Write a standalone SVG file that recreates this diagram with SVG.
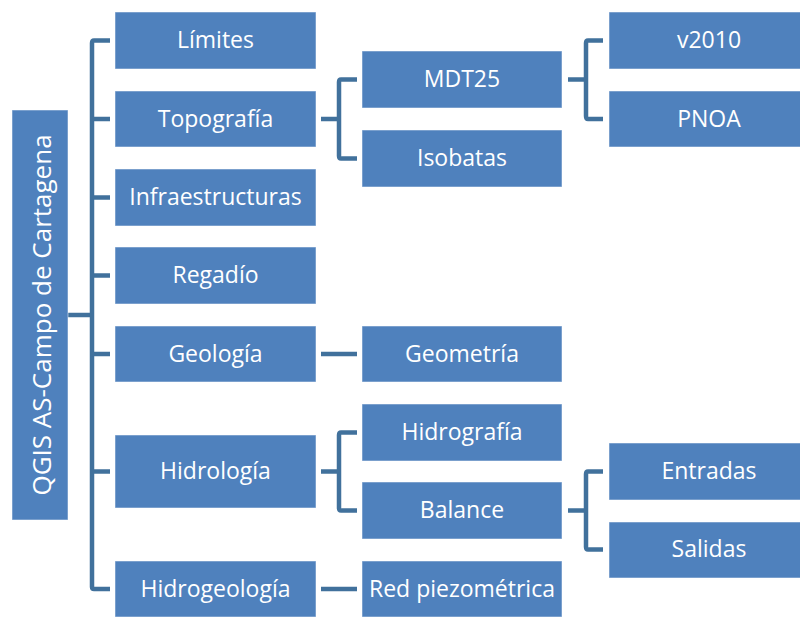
<svg xmlns="http://www.w3.org/2000/svg" width="800" height="617" viewBox="0 0 800 617">
<style>
.b{fill:#4F81BD;stroke:#FFFFFF;stroke-opacity:0.5;stroke-width:1}
.t{fill:#FFFFFF;font-family:"Open Sans","Liberation Sans",sans-serif;font-size:23px;text-anchor:middle;dominant-baseline:central}
.c{fill:none;stroke:#41719C;stroke-width:4.5;stroke-linejoin:round}
</style>
<rect width="800" height="617" fill="#FFFFFF"/>
<g id="connectors">
<path class="c" d="M68,315H92"/>
<path class="c" d="M110,40.5H94Q92,40.5 92,43V587Q92,589 94,589H110"/>
<path class="c" d="M92,119H110M92,197.5H110M92,275.5H110M92,354H110M92,471.5H110"/>
<path class="c" d="M321,119H339M357,79.5H341Q339,79.5 339,82V156Q339,158.5 341,158.5H357"/>
<path class="c" d="M568,79.5H586M603,40.5H588Q586,40.5 586,43V116Q586,119 588,119H603"/>
<path class="c" d="M321,354H357"/>
<path class="c" d="M321,471.5H339M357,432.5H341Q339,432.5 339,435V508Q339,510.5 341,510.5H357"/>
<path class="c" d="M568,510.5H586M603,471.5H588Q586,471.5 586,474V547Q586,549.5 588,549.5H603"/>
<path class="c" d="M321,589H357"/>
</g>
<g id="root"><rect class="b" x="12" y="110" width="56" height="410"/><text class="t" transform="translate(41,315) rotate(-90)" style="font-size:26px">QGIS AS-Campo de Cartagena</text></g>
<g id="limites"><rect class="b" x="115" y="12" width="201" height="57"/><text class="t" x="215.5" y="39">Límites</text></g>
<g id="topografia"><rect class="b" x="115" y="91" width="201" height="56"/><text class="t" x="215.5" y="117.5">Topografía</text></g>
<g id="infraestructuras"><rect class="b" x="115" y="169" width="201" height="57"/><text class="t" x="215.5" y="196">Infraestructuras</text></g>
<g id="regadio"><rect class="b" x="115" y="247" width="201" height="57"/><text class="t" x="215.5" y="274">Regadío</text></g>
<g id="geologia"><rect class="b" x="115" y="326" width="201" height="56"/><text class="t" x="215.5" y="352.5">Geología</text></g>
<g id="hidrologia"><rect class="b" x="115" y="435" width="201" height="73"/><text class="t" x="215.5" y="470">Hidrología</text></g>
<g id="hidrogeologia"><rect class="b" x="115" y="561" width="201" height="56"/><text class="t" x="215.5" y="587.5">Hidrogeología</text></g>
<g id="mdt25"><rect class="b" x="362" y="51" width="200" height="57"/><text class="t" x="462" y="78">MDT25</text></g>
<g id="isobatas"><rect class="b" x="362" y="130" width="200" height="57"/><text class="t" x="462" y="157">Isobatas</text></g>
<g id="geometria"><rect class="b" x="362" y="326" width="200" height="56"/><text class="t" x="462" y="352.5">Geometría</text></g>
<g id="hidrografia"><rect class="b" x="362" y="404" width="200" height="57"/><text class="t" x="462" y="431">Hidrografía</text></g>
<g id="balance"><rect class="b" x="362" y="482" width="200" height="57"/><text class="t" x="462" y="509">Balance</text></g>
<g id="redpiezometrica"><rect class="b" x="362" y="561" width="200" height="56"/><text class="t" x="462" y="587.5">Red piezométrica</text></g>
<g id="v2010"><rect class="b" x="609" y="12" width="200" height="57"/><text class="t" x="709" y="39">v2010</text></g>
<g id="pnoa"><rect class="b" x="609" y="91" width="200" height="56"/><text class="t" x="709" y="117.5">PNOA</text></g>
<g id="entradas"><rect class="b" x="609" y="443" width="200" height="57"/><text class="t" x="709" y="470">Entradas</text></g>
<g id="salidas"><rect class="b" x="609" y="522" width="200" height="56"/><text class="t" x="709" y="548">Salidas</text></g>
</svg>
